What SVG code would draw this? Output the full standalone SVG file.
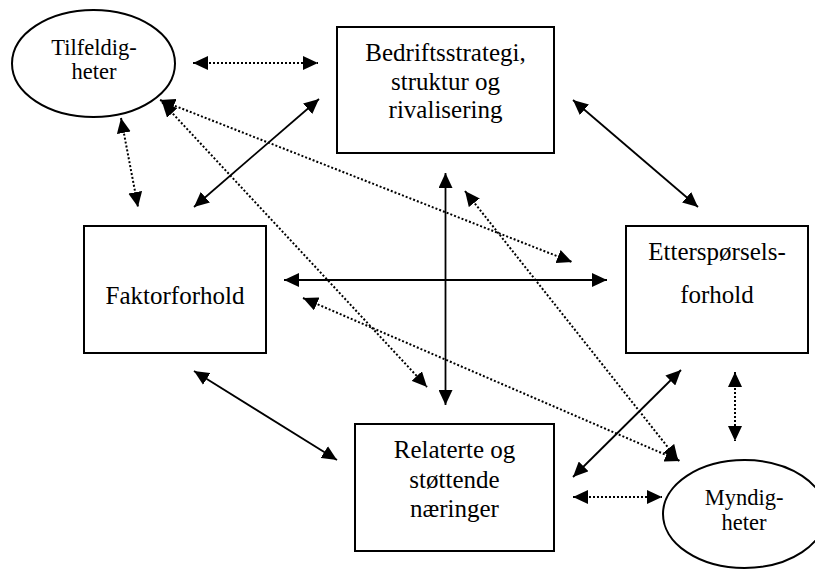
<svg xmlns="http://www.w3.org/2000/svg" width="815" height="569" viewBox="0 0 815 569">
<defs>
<marker id="ah" markerUnits="userSpaceOnUse" markerWidth="16" markerHeight="14" viewBox="0 0 16 14" refX="15" refY="7" orient="auto-start-reverse">
<path d="M0,0 L15,7 L0,14 z" fill="#000"/>
</marker>
<style>
.box{fill:#fff;stroke:#000;stroke-width:2}
.t{font-family:"Liberation Serif","Times New Roman",serif;font-size:25px;fill:#000;text-anchor:middle}
.te{font-family:"Liberation Serif","Times New Roman",serif;font-size:22.5px;fill:#000;text-anchor:middle}
.s{stroke:#000;stroke-width:1.8;fill:none;marker-start:url(#ah);marker-end:url(#ah)}
.d{stroke:#000;stroke-width:2;fill:none;stroke-dasharray:2 2;marker-start:url(#ah);marker-end:url(#ah)}
</style>
</defs>
<rect width="815" height="569" fill="#fff"/>
<g id="connectors">
<line class="d" x1="193" y1="63" x2="318" y2="63"/>
<line class="s" x1="194" y1="207" x2="319" y2="99"/>
<line class="d" x1="121" y1="118" x2="138" y2="207"/>
<line class="d" x1="160" y1="100" x2="572" y2="262"/>
<line class="d" x1="162" y1="102" x2="427" y2="387"/>
<line class="s" x1="445.5" y1="173" x2="445.5" y2="405"/>
<line class="s" x1="284" y1="280" x2="607" y2="280"/>
<line class="s" x1="573" y1="100" x2="698" y2="207"/>
<line class="d" x1="303" y1="298" x2="680" y2="461"/>
<line class="d" x1="465" y1="191" x2="678" y2="460"/>
<line class="s" x1="194" y1="371" x2="337" y2="460"/>
<line class="s" x1="681" y1="370" x2="573" y2="477"/>
<line class="d" x1="573" y1="497" x2="662" y2="497"/>
<line class="d" x1="735" y1="372" x2="735" y2="441"/>
</g>
<g id="tilfeldigheter">
<ellipse class="box" cx="93.5" cy="63.5" rx="81.5" ry="53.5"/>
<text class="te" x="94" y="55">Tilfeldig-</text>
<text class="te" x="94" y="79">heter</text>
</g>
<g id="bedriftsstrategi">
<rect class="box" x="337" y="27" width="217" height="126"/>
<text class="t" x="445.5" y="61">Bedriftsstrategi,</text>
<text class="t" x="445.5" y="90">struktur og</text>
<text class="t" x="445.5" y="118">rivalisering</text>
</g>
<g id="faktorforhold">
<rect class="box" x="84" y="226" width="182" height="127"/>
<text class="t" x="175" y="304">Faktorforhold</text>
</g>
<g id="ettersporsel">
<rect class="box" x="626" y="226" width="182" height="127"/>
<text class="t" x="717" y="260">Etterspørsels-</text>
<text class="t" x="717" y="303">forhold</text>
</g>
<g id="relaterte">
<rect class="box" x="355" y="424" width="199" height="127"/>
<text class="t" x="454.5" y="458">Relaterte og</text>
<text class="t" x="454.5" y="488">støttende</text>
<text class="t" x="454.5" y="517">næringer</text>
</g>
<g id="myndigheter">
<ellipse class="box" cx="744.5" cy="514" rx="81.5" ry="54"/>
<text class="te" x="744" y="505">Myndig-</text>
<text class="te" x="744" y="530">heter</text>
</g>
</svg>
